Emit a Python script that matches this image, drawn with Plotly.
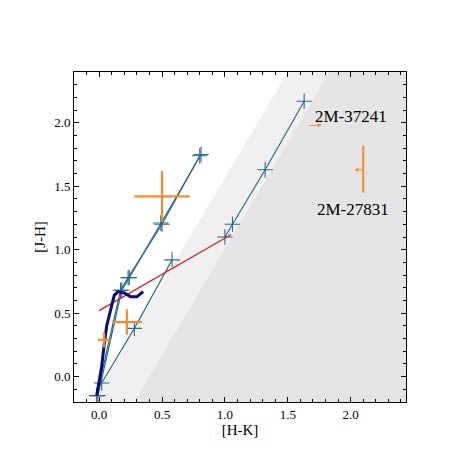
import plotly.graph_objects as go

line1_x = [-0.02, 0.17, 0.23, 0.5, 0.8]
line1_y = [-0.15, 0.68, 0.78, 1.2, 1.74]
line1b_x = [-0.01, 0.18, 0.24, 0.49, 0.81]
line1b_y = [-0.15, 0.68, 0.78, 1.21, 1.75]
line2_x = [0.02, 0.28, 0.58]
line2_y = [-0.05, 0.38, 0.92]
line3_x = [1.0, 1.06, 1.32, 1.63]
line3_y = [1.1, 1.2, 1.63, 2.17]
red_x = [0.0, 1.05]
red_y = [0.52, 1.12]
track_x = [-0.02, 0.0, 0.02, 0.04, 0.06, 0.09, 0.12, 0.15, 0.2, 0.25, 0.3, 0.35]
track_y = [-0.15, -0.05, 0.08, 0.25, 0.4, 0.52, 0.64, 0.67, 0.66, 0.63, 0.63, 0.67]
err_x = [0.5, 0.22, 0.04]
err_y = [1.42, 0.43, 0.29]
err_dx = [0.22, 0.12, 0.05]
err_dy = [0.2, 0.1, 0.06]

BLUE = "#2b6a8e"
ORANGE = "#f7892b"
SERIF = "Liberation Serif"
fig = go.Figure()
fig.add_trace(go.Scatter(x=[-0.06, 1.5, 2.45, 2.45, -0.06], y=[-0.2, 2.4, 2.4, -0.2, -0.2],
                         fill="toself", fillcolor="#f0f0f0", line=dict(width=0), mode="lines", hoverinfo="skip"))
fig.add_trace(go.Scatter(x=[0.28, 1.83, 2.45, 2.45, 0.28], y=[-0.2, 2.4, 2.4, -0.2, -0.2],
                         fill="toself", fillcolor="#e5e5e5", line=dict(width=0), mode="lines", hoverinfo="skip"))
for xs, ys in [(line1_x, line1_y), (line1b_x, line1b_y), (line2_x, line2_y), (line3_x, line3_y)]:
    fig.add_trace(go.Scatter(x=xs, y=ys, mode="lines+markers", line=dict(color=BLUE, width=1.2),
                             marker=dict(symbol="cross-thin", size=11, line=dict(color=BLUE, width=1.1))))
fig.add_trace(go.Scatter(x=red_x, y=red_y, mode="lines", line=dict(color="#e31a1c", width=1.3)))
fig.add_trace(go.Scatter(x=track_x, y=track_y, mode="lines", line=dict(color="#0a0a7a", width=3)))
fig.add_trace(go.Scatter(x=err_x, y=err_y, mode="markers", marker=dict(size=1, color=ORANGE),
                         error_x=dict(type="data", array=err_dx, color=ORANGE, thickness=2.2, width=0),
                         error_y=dict(type="data", array=err_dy, color=ORANGE, thickness=2.2, width=0)))
fig.add_trace(go.Scatter(x=[2.1, 2.1], y=[1.45, 1.82], mode="lines", line=dict(color=ORANGE, width=2)))
fig.add_annotation(x=2.03, y=1.63, ax=2.1, ay=1.63, axref="x", ayref="y", showarrow=True,
                   arrowhead=2, arrowsize=0.8, arrowwidth=1, arrowcolor=ORANGE, text="")
fig.add_annotation(x=1.77, y=1.98, ax=1.66, ay=1.98, axref="x", ayref="y", showarrow=True,
                   arrowhead=2, arrowsize=0.8, arrowwidth=1, arrowcolor=ORANGE, text="")
fig.add_annotation(x=1.7, y=2.05, text="2M-37241", showarrow=False, xanchor="left", font=dict(size=17, family=SERIF))
fig.add_annotation(x=1.72, y=1.32, text="2M-27831", showarrow=False, xanchor="left", font=dict(size=17, family=SERIF))

ax = dict(showgrid=False, zeroline=False, ticks="inside", mirror="ticks", showline=True, linecolor="black",
          linewidth=1, ticklen=5, tickcolor="black", tickfont=dict(family=SERIF, size=13),
          minor=dict(ticks="inside", ticklen=3, dtick=0.1, tickcolor="black"))
fig.update_xaxes(range=[-0.2, 2.44], dtick=0.5, tickformat=".1f",
                 title=dict(text="[H-K]", standoff=2, font=dict(family=SERIF, size=15)), **ax)
fig.update_yaxes(range=[-0.2, 2.4], dtick=0.5, tickformat=".1f",
                 title=dict(text="[J-H]", standoff=4, font=dict(family=SERIF, size=15)), **ax)
fig.update_layout(width=475, height=475, showlegend=False, plot_bgcolor="white", paper_bgcolor="white",
                  margin=dict(l=66, r=77, t=64, b=81),
                  font=dict(family=SERIF, size=13, color="black"))
fig.write_html("out.html")
